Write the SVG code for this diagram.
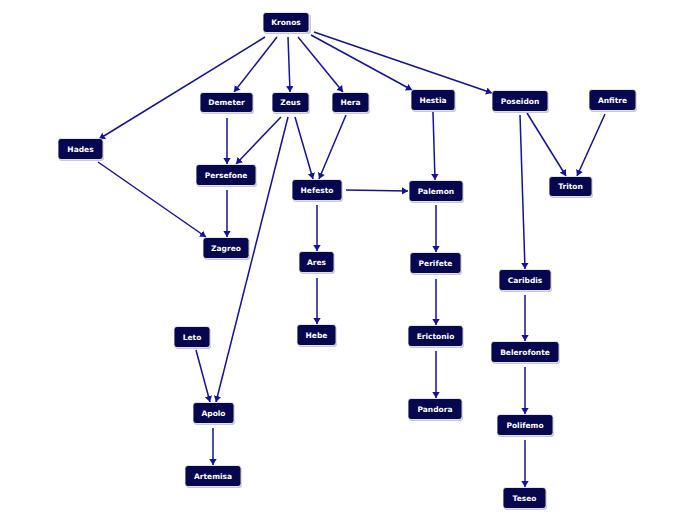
<svg xmlns="http://www.w3.org/2000/svg" width="696" height="520" viewBox="0 0 696 520">
<style>
.n .s{fill:#c9c9d2}
.n .b{fill:#07074f;stroke:#ffffff;stroke-width:0.8}
.n text{fill:#ffffff;font-family:"DejaVu Sans",Verdana,sans-serif;font-weight:bold;font-size:7.5px;text-anchor:middle;dominant-baseline:central}
#edges line{stroke:#12129e;stroke-width:1.5;fill:none;marker-end:url(#ah)}
</style>
<defs>
<marker id="ah" markerUnits="userSpaceOnUse" markerWidth="10" markerHeight="10" viewBox="0 0 10 10" refX="6" refY="5" orient="auto">
<path d="M0,1.3 L6,5 L0,8.7 Z" fill="#12129e"/>
</marker>
</defs>
<rect width="696" height="520" fill="#ffffff"/>
<g id="edges">
<line x1="265" y1="37" x2="99" y2="139"/>
<line x1="277" y1="37" x2="234" y2="92"/>
<line x1="288" y1="37" x2="290" y2="92"/>
<line x1="298" y1="37" x2="343" y2="92"/>
<line x1="311" y1="35" x2="412" y2="90"/>
<line x1="314" y1="32" x2="492" y2="93"/>
<line x1="227" y1="118" x2="227" y2="164"/>
<line x1="281" y1="117" x2="236" y2="164"/>
<line x1="295" y1="117" x2="313" y2="179"/>
<line x1="288" y1="117" x2="216" y2="402"/>
<line x1="346" y1="115" x2="319" y2="179"/>
<line x1="98" y1="162" x2="206" y2="237"/>
<line x1="227" y1="190" x2="227" y2="237"/>
<line x1="346" y1="190" x2="408" y2="191"/>
<line x1="317" y1="205" x2="317" y2="251"/>
<line x1="317" y1="278" x2="317" y2="324"/>
<line x1="433" y1="112" x2="435" y2="180"/>
<line x1="436" y1="205" x2="436" y2="252"/>
<line x1="436" y1="279" x2="436" y2="325"/>
<line x1="436" y1="351" x2="436" y2="398"/>
<line x1="520" y1="115" x2="525" y2="269"/>
<line x1="527" y1="113" x2="566" y2="176"/>
<line x1="605" y1="114" x2="577" y2="176"/>
<line x1="525" y1="295" x2="525" y2="341"/>
<line x1="525" y1="367" x2="525" y2="414"/>
<line x1="525" y1="440" x2="525" y2="487"/>
<line x1="196" y1="350" x2="210" y2="402"/>
<line x1="213" y1="428" x2="213" y2="465"/>
</g>
<g id="kronos" class="n"><rect class="s" x="264" y="14" width="47" height="20" rx="3"/><rect class="b" x="263" y="12.5" width="46" height="20" rx="3"/><text x="286" y="22.5">Kronos</text></g>
<g id="demeter" class="n"><rect class="s" x="201" y="94" width="53" height="20" rx="3"/><rect class="b" x="200" y="92.5" width="53" height="20" rx="3"/><text x="226.5" y="102.5">Demeter</text></g>
<g id="zeus" class="n"><rect class="s" x="273" y="94" width="37" height="20" rx="3"/><rect class="b" x="272" y="92.5" width="37" height="20" rx="3"/><text x="290.5" y="102.5">Zeus</text></g>
<g id="hera" class="n"><rect class="s" x="333" y="94" width="37" height="20" rx="3"/><rect class="b" x="332" y="92.5" width="37" height="20" rx="3"/><text x="350.5" y="102.5">Hera</text></g>
<g id="hestia" class="n"><rect class="s" x="412" y="91" width="44" height="21" rx="3"/><rect class="b" x="411" y="89.5" width="44" height="21" rx="3"/><text x="433" y="100">Hestia</text></g>
<g id="poseidon" class="n"><rect class="s" x="493" y="92" width="56" height="21" rx="3"/><rect class="b" x="492" y="90.5" width="56" height="21" rx="3"/><text x="520" y="101">Poseidon</text></g>
<g id="anfitre" class="n"><rect class="s" x="590" y="91" width="47" height="21" rx="3"/><rect class="b" x="589" y="89.5" width="47" height="21" rx="3"/><text x="612.5" y="100">Anfitre</text></g>
<g id="hades" class="n"><rect class="s" x="59" y="140" width="45" height="21" rx="3"/><rect class="b" x="58" y="138.5" width="45" height="21" rx="3"/><text x="80.5" y="149">Hades</text></g>
<g id="persefone" class="n"><rect class="s" x="197" y="166" width="60" height="21" rx="3"/><rect class="b" x="196" y="164.5" width="60" height="21" rx="3"/><text x="226" y="175">Persefone</text></g>
<g id="hefesto" class="n"><rect class="s" x="293" y="181" width="50" height="21" rx="3"/><rect class="b" x="292" y="179.5" width="50" height="21" rx="3"/><text x="317" y="190">Hefesto</text></g>
<g id="palemon" class="n"><rect class="s" x="410" y="182" width="54" height="21" rx="3"/><rect class="b" x="409" y="180.5" width="54" height="21" rx="3"/><text x="436" y="191">Palemon</text></g>
<g id="triton" class="n"><rect class="s" x="550" y="178" width="43" height="20" rx="3"/><rect class="b" x="549" y="176.5" width="43" height="20" rx="3"/><text x="570.5" y="186.5">Triton</text></g>
<g id="zagreo" class="n"><rect class="s" x="204" y="239" width="46" height="21" rx="3"/><rect class="b" x="203" y="237.5" width="46" height="21" rx="3"/><text x="226" y="248">Zagreo</text></g>
<g id="ares" class="n"><rect class="s" x="300" y="253" width="35" height="21" rx="3"/><rect class="b" x="299" y="251.5" width="35" height="21" rx="3"/><text x="316.5" y="262">Ares</text></g>
<g id="perifete" class="n"><rect class="s" x="411" y="254" width="51" height="21" rx="3"/><rect class="b" x="410" y="252.5" width="51" height="21" rx="3"/><text x="435.5" y="263">Perifete</text></g>
<g id="caribdis" class="n"><rect class="s" x="500" y="271" width="52" height="21" rx="3"/><rect class="b" x="499" y="269.5" width="52" height="21" rx="3"/><text x="525" y="280">Caribdis</text></g>
<g id="leto" class="n"><rect class="s" x="175" y="328" width="36" height="21" rx="3"/><rect class="b" x="174" y="326.5" width="36" height="21" rx="3"/><text x="192" y="337">Leto</text></g>
<g id="hebe" class="n"><rect class="s" x="298" y="326" width="39" height="21" rx="3"/><rect class="b" x="297" y="324.5" width="39" height="21" rx="3"/><text x="316.5" y="335">Hebe</text></g>
<g id="erictonio" class="n"><rect class="s" x="409" y="327" width="55" height="21" rx="3"/><rect class="b" x="408" y="325.5" width="55" height="21" rx="3"/><text x="435.5" y="336">Erictonio</text></g>
<g id="belerofonte" class="n"><rect class="s" x="492" y="343" width="68" height="21" rx="3"/><rect class="b" x="491" y="341.5" width="68" height="21" rx="3"/><text x="525" y="352">Belerofonte</text></g>
<g id="pandora" class="n"><rect class="s" x="409" y="400" width="54" height="21" rx="3"/><rect class="b" x="408" y="398.5" width="54" height="21" rx="3"/><text x="435" y="409">Pandora</text></g>
<g id="apolo" class="n"><rect class="s" x="194" y="404" width="41" height="21" rx="3"/><rect class="b" x="193" y="402.5" width="41" height="21" rx="3"/><text x="213.5" y="413">Apolo</text></g>
<g id="polifemo" class="n"><rect class="s" x="498" y="416" width="56" height="21" rx="3"/><rect class="b" x="497" y="414.5" width="56" height="21" rx="3"/><text x="525" y="425">Polifemo</text></g>
<g id="artemisa" class="n"><rect class="s" x="186" y="467" width="56" height="21" rx="3"/><rect class="b" x="185" y="465.5" width="56" height="21" rx="3"/><text x="213" y="476">Artemisa</text></g>
<g id="teseo" class="n"><rect class="s" x="504" y="489" width="43" height="21" rx="3"/><rect class="b" x="503" y="487.5" width="43" height="21" rx="3"/><text x="524.5" y="498">Teseo</text></g>
</svg>
